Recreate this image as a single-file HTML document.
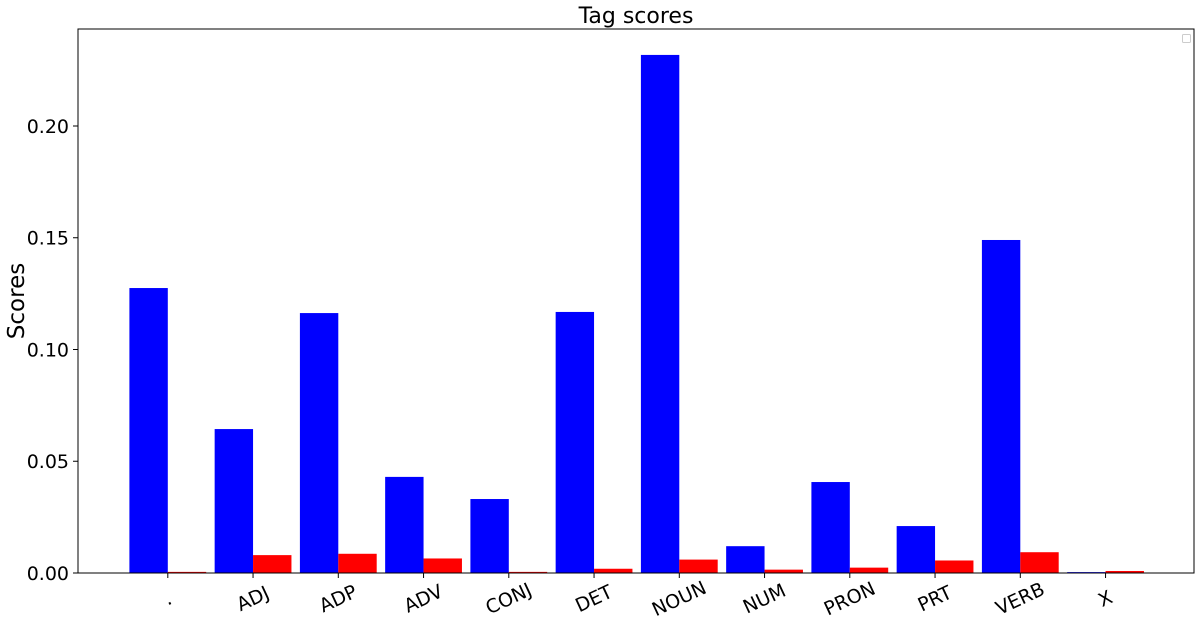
<!DOCTYPE html>
<html><head><meta charset="utf-8"><style>
body{margin:0;background:#fff;font-family:"Liberation Sans","DejaVu Sans",sans-serif}
svg text{font-family:"DejaVu Sans","Liberation Sans",sans-serif}
</style></head><body>
<svg id="c" width="1201" height="626"></svg>
<script>
const categories=[".","ADJ","ADP","ADV","CONJ","DET","NOUN","NUM","PRON","PRT","VERB","X"];
const blueValues=[0.1275,0.0644,0.1163,0.0430,0.0331,0.1168,0.2318,0.0120,0.0407,0.0210,0.1490,0.0004];
const redValues=[0.0005,0.0080,0.0086,0.0065,0.0005,0.0019,0.0060,0.0015,0.0024,0.0056,0.0093,0.0009];
const yTicks=[0,0.05,0.10,0.15,0.20];
const yTickLabels=["0.00","0.05","0.10","0.15","0.20"];
const NS="http://www.w3.org/2000/svg";
const svg=document.getElementById('c');
const L=78,R=1194,T=29,B=573,yMax=0.2434;
const step=85.25,first=167.8,bw=38.4;
const y=v=>B-(v/yMax)*(B-T);
const x=i=>first+i*step;
function mk(tag,attrs,parent){const e=document.createElementNS(NS,tag);for(const k in attrs)e.setAttribute(k,attrs[k]);(parent||svg).appendChild(e);return e;}
categories.forEach((c,i)=>{
  const b=mk('rect',{x:x(i)-bw,y:y(blueValues[i]),width:bw,height:B-y(blueValues[i]),fill:'#0000ff'});
  
  
  const r=mk('rect',{x:x(i),y:y(redValues[i]),width:bw,height:B-y(redValues[i]),fill:'#ff0000'});
  
  
  mk('line',{x1:x(i),x2:x(i),y1:B,y2:B+5,stroke:'#000','stroke-width':1});
  const t=mk('text',{x:x(i),y:B+32,'font-size':19,'text-anchor':'middle',transform:`rotate(-25 ${x(i)} ${B+26})`});
  t.textContent=c;
  
  
});
yTicks.forEach((v,i)=>{
  mk('line',{x1:L-5,x2:L,y1:y(v),y2:y(v),stroke:'#000','stroke-width':1});
  const t=mk('text',{x:L-9,y:y(v)+7,'font-size':19,'text-anchor':'end'});
  t.textContent=yTickLabels[i];
  
  
});
const f=mk('rect',{x:L,y:T,width:R-L,height:B-T,fill:'none',stroke:'#000','stroke-width':1});


const lg=mk('rect',{x:1182.5,y:34.5,width:8,height:8,fill:'#fff',stroke:'#ccc','stroke-width':1,rx:1});


const ti=mk('text',{x:(L+R)/2,y:23,'font-size':22,'text-anchor':'middle'});
ti.textContent='Tag scores';


const yl=mk('text',{x:24,y:(T+B)/2,'font-size':23,'text-anchor':'middle',transform:`rotate(-90 24 ${(T+B)/2})`});
yl.textContent='Scores';


</script>
</body></html>
